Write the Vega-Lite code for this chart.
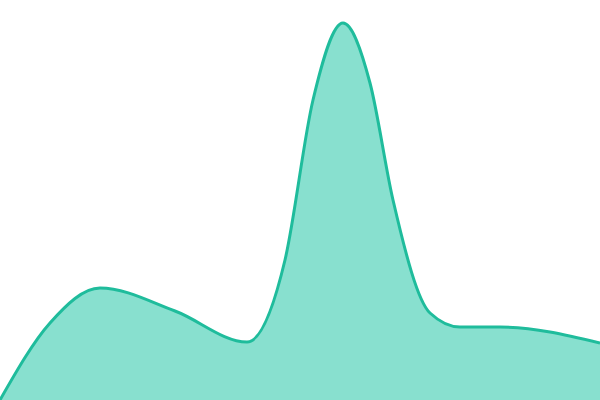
{
  "$schema": "https://vega.github.io/schema/vega-lite/v6.json",
  "width": 600,
  "height": 400,
  "padding": 0,
  "autosize": "none",
  "config": {"view": {"stroke": null}},
  "data": {
    "values": [
      {"x": 0, "y": 0},
      {"x": 50, "y": 77},
      {"x": 100, "y": 112},
      {"x": 175, "y": 89},
      {"x": 247, "y": 58},
      {"x": 285, "y": 140},
      {"x": 313, "y": 300},
      {"x": 343, "y": 377},
      {"x": 370, "y": 317},
      {"x": 393, "y": 200},
      {"x": 430, "y": 87},
      {"x": 460, "y": 73},
      {"x": 500, "y": 73},
      {"x": 600, "y": 57}
    ]
  },
  "mark": {
    "type": "area",
    "interpolate": "monotone",
    "color": "#88e0cf",
    "opacity": 1,
    "line": {"color": "#1fbc9c", "strokeWidth": 3}
  },
  "encoding": {
    "x": {"field": "x", "type": "quantitative", "axis": null, "scale": {"domain": [0, 600], "nice": false}},
    "y": {"field": "y", "type": "quantitative", "axis": null, "scale": {"domain": [0, 400], "nice": false}}
  }
}
